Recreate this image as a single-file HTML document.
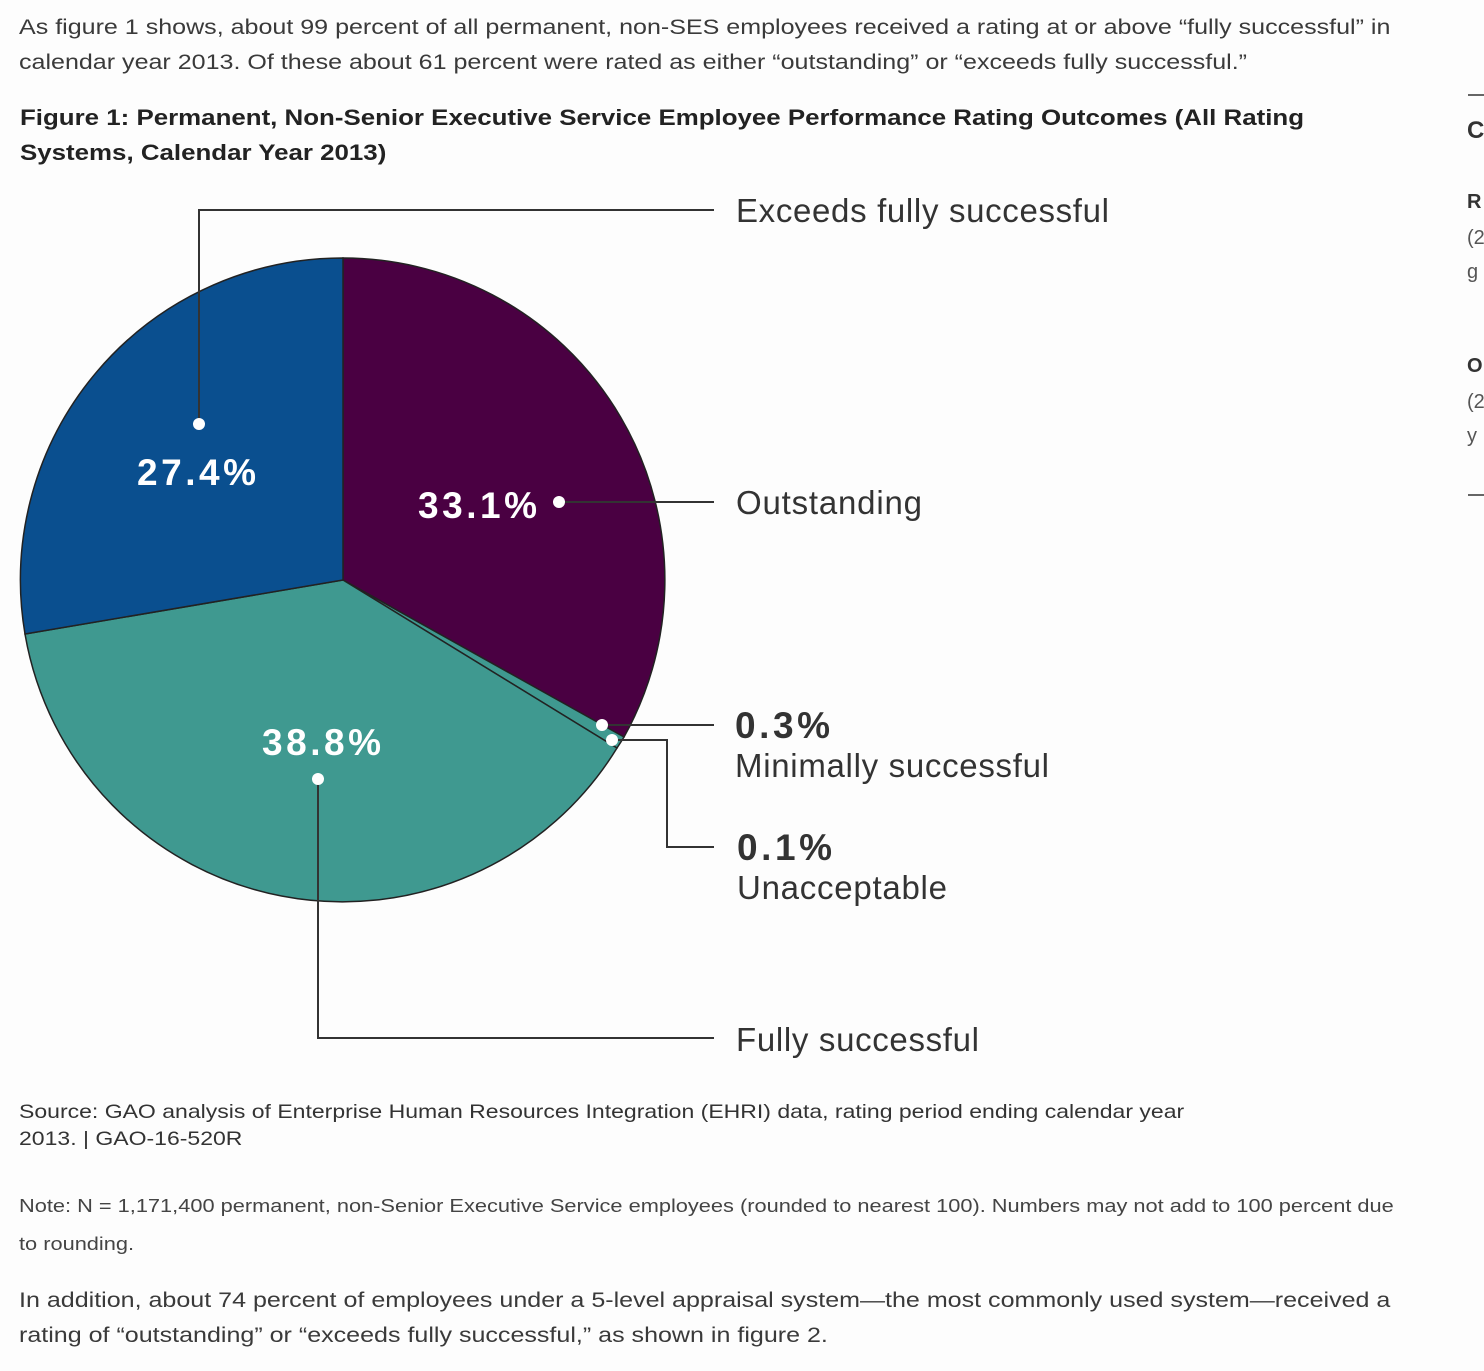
<!DOCTYPE html>
<html><head><meta charset="utf-8"><style>
body{margin:0;background:#fdfdfd;width:1484px;height:1371px;overflow:hidden;position:relative;font-family:"Liberation Sans",Arial,sans-serif;color:#333}
.t{position:absolute;white-space:nowrap;transform-origin:0 0}
</style></head><body>
<div class="t" style="left:19px;top:10px;font-size:21.5px;line-height:35px;color:#3a3a3a;transform:scaleX(1.165)">As figure 1 shows, about 99 percent of all permanent, non-SES employees received a rating at or above “fully successful” in<br>calendar year 2013. Of these about 61 percent were rated as either “outstanding” or “exceeds fully successful.”</div>
<div class="t" style="left:20px;top:100px;font-size:22.5px;line-height:35px;font-weight:bold;color:#222;transform:scaleX(1.15)">Figure 1: Permanent, Non-Senior Executive Service Employee Performance Rating Outcomes (All Rating<br>Systems, Calendar Year 2013)</div>
<svg width="1484" height="1371" style="position:absolute;left:0;top:0">
<g stroke="#222" stroke-width="1.5">
<path d="M343,580 L343,258 A322,322 0 0 1 624,737 Z" fill="#4a0042"/>
<path d="M343,580 L624,737 A322,322 0 0 1 617,748 Z" fill="#3f9990"/>
<path d="M343,580 L617,748 A322,322 0 0 1 25,634 Z" fill="#3f9990"/>
<path d="M343,580 L25,634 A322,322 0 0 1 343,258 Z" fill="#0a4f8f"/>
</g>
<g stroke="#333" stroke-width="2" fill="none">
<polyline points="199,424 199,210 714,210"/>
<polyline points="559,502 714,502"/>
<polyline points="602,725 714,725"/>
<polyline points="612,740 667,740 667,847 714,847"/>
<polyline points="318,779 318,1038 714,1038"/>
</g>
<g fill="#fff"><circle cx="199" cy="424" r="6"/><circle cx="559" cy="502" r="6"/><circle cx="602" cy="725" r="6"/><circle cx="612" cy="740" r="6"/><circle cx="318" cy="779" r="6"/></g>
<g fill="#fff" font-weight="bold" font-size="37" font-family="Liberation Sans,sans-serif">
<text x="137" y="485" textLength="119">27.4%</text><text x="418" y="518" textLength="119">33.1%</text><text x="262" y="755" textLength="119">38.8%</text></g>
<g fill="#333" font-size="33" font-family="Liberation Sans,sans-serif">
<text x="736" y="222" textLength="373">Exceeds fully successful</text>
<text x="736" y="514" textLength="186">Outstanding</text>
<text x="735" y="738" font-weight="bold" font-size="37" textLength="95">0.3%</text>
<text x="735" y="777" textLength="314">Minimally successful</text>
<text x="737" y="860" font-weight="bold" font-size="37" textLength="95">0.1%</text>
<text x="737" y="899" textLength="210">Unacceptable</text>
<text x="736" y="1051" textLength="243">Fully successful</text>
</g>
<g stroke="#333" stroke-width="1.5"><line x1="1468" y1="95" x2="1484" y2="95"/><line x1="1468" y1="495" x2="1484" y2="495"/></g>
<g fill="#333" font-size="24" font-weight="bold" font-family="Liberation Sans,sans-serif"><text x="1467" y="138">C</text><text x="1467" y="208" font-size="20">R</text><text x="1467" y="372" font-size="20">O</text></g>
<g fill="#555" font-size="20" font-family="Liberation Sans,sans-serif"><text x="1467" y="244">(2</text><text x="1467" y="278">g</text><text x="1467" y="408">(2</text><text x="1467" y="442">y</text></g>
</svg>
<div class="t" style="left:19px;top:1099px;font-size:19.5px;line-height:27px;color:#333;transform:scaleX(1.18)">Source: GAO analysis of Enterprise Human Resources Integration (EHRI) data, rating period ending calendar year<br>2013. | GAO-16-520R</div>
<div class="t" style="left:19px;top:1187px;font-size:18px;line-height:38px;color:#444;transform:scaleX(1.21)">Note: N = 1,171,400 permanent, non-Senior Executive Service employees (rounded to nearest 100). Numbers may not add to 100 percent due<br>to rounding.</div>
<div class="t" style="left:19px;top:1283px;font-size:21.5px;line-height:35px;color:#3a3a3a;transform:scaleX(1.165)">In addition, about 74 percent of employees under a 5-level appraisal system—the most commonly used system—received a<br>rating of “outstanding” or “exceeds fully successful,” as shown in figure 2.</div>
</body></html>
